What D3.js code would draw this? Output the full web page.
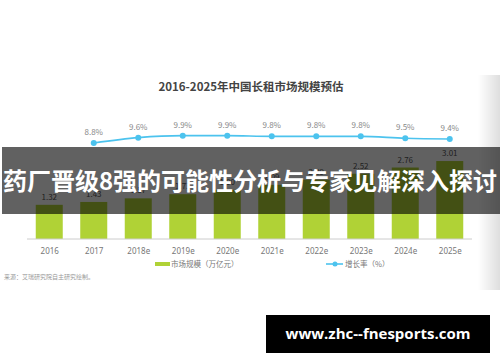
<!DOCTYPE html>
<html>
<head>
<meta charset="utf-8">
<script src="https://cdn.jsdelivr.net/npm/d3@7"></script>
<style>
  body { margin: 0; background: #fff; }
  text { font-family: "Noto Sans CJK SC", "Noto Sans", sans-serif; }
</style>
</head>
<body>
<div id="chart"></div>
<script>
var years = ["2016", "2017", "2018e", "2019e", "2020e", "2021e", "2022e", "2023e", "2024e", "2025e"];
var marketSize = [1.32, 1.43, 1.57, 1.73, 1.90, 2.09, 2.29, 2.52, 2.76, 3.01];
var growthYears = ["2017", "2018e", "2019e", "2020e", "2021e", "2022e", "2023e", "2024e", "2025e"];
var growthRate = [8.8, 9.6, 9.9, 9.9, 9.8, 9.8, 9.8, 9.5, 9.4];

var w = 500, h = 362;
var barW = 27;

var svg = d3.select("#chart")
  .append("svg")
  .attr("width", w)
  .attr("height", h);

// shadow on right edge of the picture
var defs = svg.append("defs");
var grad = defs.append("linearGradient").attr("id", "edge")
  .attr("x1", "0").attr("x2", "1").attr("y1", "0").attr("y2", "0");
grad.append("stop").attr("offset", "0").attr("stop-color", "#fff");
grad.append("stop").attr("offset", "1").attr("stop-color", "#dedede");
svg.append("rect")
  .attr("x", 478).attr("y", 75).attr("width", 22).attr("height", 215)
  .attr("fill", "url(#edge)");

//SCALES//
var x = d3.scalePoint().domain(years).range([27, 472]).padding(0.5);
var y = d3.scaleLinear().domain([0, 3.5]).range([239, 239 - 3.5 * 25.9]);
var yLine = d3.scaleLinear().domain([8, 10]).range([148.3, 135]);

// title
svg.append("text")
  .attr("x", 251).attr("y", 91)
  .attr("text-anchor", "middle")
  .style("font-size", "11.5px")
  .style("font-weight", "bold")
  .attr("fill", "#444")
  .text("2016-2025年中国长租市场规模预估");

// bars
svg.selectAll(".bar")
  .data(marketSize)
  .enter().append("rect")
  .attr("class", "bar")
  .attr("x", function(d, i) { return x(years[i]) - barW / 2; })
  .attr("y", function(d) { return y(d); })
  .attr("width", barW)
  .attr("height", function(d) { return y(0) - y(d); })
  .attr("fill", "#b0d236");

svg.selectAll(".barLabel")
  .data(marketSize)
  .enter().append("text")
  .attr("class", "barLabel")
  .attr("x", function(d, i) { return x(years[i]); })
  .attr("y", function(d) { return y(d) - 5; })
  .attr("text-anchor", "middle")
  .style("font-size", "8px")
  .attr("fill", "#555")
  .text(function(d) { return d.toFixed(2); });

//XAXIS
var xAxis = d3.axisBottom(x).tickSize(0).tickPadding(9);
var gx = svg.append("g")
  .attr("transform", "translate(0,239)")
  .call(xAxis);
gx.select(".domain").attr("stroke", "#ccc").attr("d", "M27,0H472");
gx.selectAll("text")
  .style("font-size", "8px")
  .style("font-family", "'Noto Sans', sans-serif")
  .attr("fill", "#777");

// growth line
var line = d3.line()
  .x(function(d, i) { return x(growthYears[i]); })
  .y(function(d) { return yLine(d); })
  .curve(d3.curveMonotoneX);

svg.append("path")
  .datum(growthRate)
  .attr("d", line)
  .attr("fill", "none")
  .attr("stroke", "#4cc3ee")
  .attr("stroke-width", 1.6);

svg.selectAll(".dot")
  .data(growthRate)
  .enter().append("circle")
  .attr("cx", function(d, i) { return x(growthYears[i]); })
  .attr("cy", function(d) { return yLine(d); })
  .attr("r", 3)
  .attr("fill", "#4cc3ee");

svg.selectAll(".rateLabel")
  .data(growthRate)
  .enter().append("text")
  .attr("x", function(d, i) { return x(growthYears[i]); })
  .attr("y", function(d) { return yLine(d) - 8; })
  .attr("text-anchor", "middle")
  .style("font-size", "8px")
  .attr("fill", "#888")
  .text(function(d) { return d.toFixed(1) + "%"; });

// legend
svg.append("rect").attr("x", 155).attr("y", 262).attr("width", 15).attr("height", 4).attr("fill", "#b0d236");
svg.append("text").attr("x", 171).attr("y", 267).style("font-size", "7.5px").attr("fill", "#777").text("市场规模（万亿元）");
svg.append("line").attr("x1", 326).attr("x2", 343).attr("y1", 264).attr("y2", 264)
  .attr("stroke", "#4cc3ee").attr("stroke-width", 1.6);
svg.append("circle").attr("cx", 335).attr("cy", 264).attr("r", 2.5).attr("fill", "#4cc3ee");
svg.append("text").attr("x", 345).attr("y", 267).style("font-size", "7.5px").attr("fill", "#777").text("增长率（%）");

// source
svg.append("text").attr("x", 4).attr("y", 279).style("font-size", "6px").attr("fill", "#999")
  .text("来源：艾瑞研究院自主研究绘制。");

// banner over the chart
svg.append("rect")
  .attr("x", 2).attr("y", 147).attr("width", 498).attr("height", 67)
  .attr("fill", "#000").attr("opacity", 0.62);
svg.append("text")
  .attr("x", 250).attr("y", 190)
  .attr("text-anchor", "middle")
  .style("font-size", "24px")
  .style("font-weight", "bold")
  .attr("fill", "#fff")
  .text("药厂晋级8强的可能性分析与专家见解深入探讨");

// site label
svg.append("rect").attr("x", 266).attr("y", 315).attr("width", 224).attr("height", 38).attr("fill", "#000");
svg.append("text")
  .attr("x", 378).attr("y", 339)
  .attr("text-anchor", "middle")
  .style("font-family", "'Open Sans', sans-serif")
  .style("font-size", "15px")
  .style("font-weight", "bold")
  .attr("fill", "#fff")
  .text("www.zhc--fnesports.com");
</script>
</body>
</html>
